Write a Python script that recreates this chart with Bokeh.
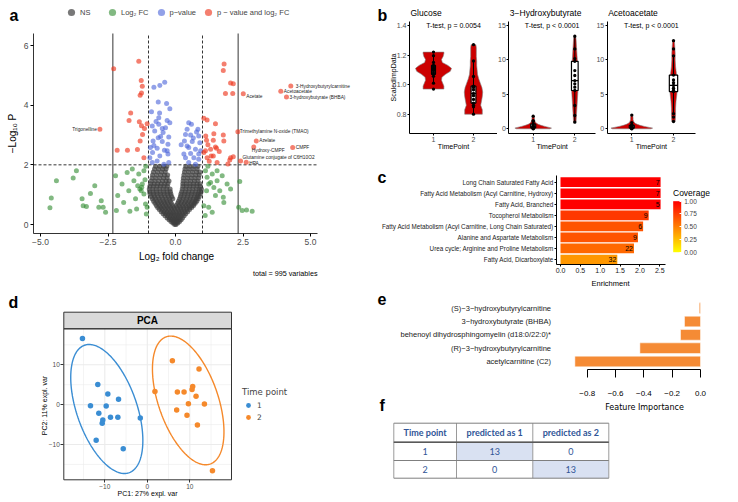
import numpy as np
from bokeh.plotting import figure
from bokeh.models import (Range1d, Label, LabelSet, ColumnDataSource, Legend, LegendItem,
                          FixedTicker, ColorBar, LinearColorMapper, NumeralTickFormatter)
from bokeh.layouts import row, column
from bokeh.transform import transform
from bokeh.embed import file_html
from bokeh.resources import INLINE
from bokeh.core.properties import value

FONT = "Liberation Sans"
FONT2 = "DejaVu Sans"
TFONT = "Lato"

# ---------------- Panel a: volcano ----------------
ns_rows = [
    (0.00, [-0.03, 0.02]),
    (0.05, [-0.10, -0.04, 0.03, 0.09]),
    (0.10, [-0.17, -0.09, -0.01, 0.07, 0.15]),
    (0.16, [-0.24, -0.15, -0.06, 0.03, 0.12, 0.21]),
    (0.22, [-0.31, -0.22, -0.12, -0.03, 0.06, 0.16, 0.26]),
    (0.29, [-0.39, -0.29, -0.19, -0.09, 0.01, 0.11, 0.21, 0.32]),
    (0.36, [-0.46, -0.36, -0.25, -0.15, -0.05, 0.06, 0.16, 0.27, 0.38]),
    (0.43, [-0.53, -0.42, -0.31, -0.20, -0.09, 0.02, 0.13, 0.24, 0.35, 0.45]),
    (0.50, [-0.60, -0.49, -0.37, -0.26, -0.14, -0.03, 0.09, 0.20, 0.31, 0.42, 0.52]),
    (0.57, [-0.66, -0.54, -0.42, -0.30, -0.18, -0.06, 0.06, 0.18, 0.30, 0.42, 0.53, 0.60]),
    (0.64, [-0.71, -0.59, -0.47, -0.35, -0.23, -0.11, 0.02, 0.14, 0.26, 0.38, 0.50, 0.61, 0.67]),
    (0.71, [-0.76, -0.64, -0.52, -0.40, -0.28, -0.15, 0.08, 0.20, 0.33, 0.45, 0.57, 0.68, 0.73]),
    (0.78, [-0.81, -0.69, -0.57, -0.44, -0.32, -0.19, 0.11, 0.24, 0.37, 0.50, 0.62, 0.73, 0.79]),
    (0.86, [-0.86, -0.74, -0.61, -0.48, -0.35, -0.22, -0.10, 0.15, 0.28, 0.41, 0.54, 0.66, 0.77, 0.84]),
    (0.94, [-0.90, -0.78, -0.65, -0.52, -0.39, -0.26, -0.14, 0.18, 0.31, 0.44, 0.57, 0.70, 0.81, 0.88]),
    (1.02, [-0.94, -0.81, -0.68, -0.55, -0.42, -0.29, -0.17, 0.20, 0.33, 0.46, 0.59, 0.72, 0.84, 0.92]),
    (1.10, [-0.96, -0.83, -0.70, -0.57, -0.44, -0.31, -0.19, 0.23, 0.36, 0.49, 0.62, 0.75, 0.87, 0.95]),
    (1.19, [-0.97, -0.84, -0.71, -0.58, -0.45, -0.32, -0.20, 0.25, 0.38, 0.51, 0.64, 0.77, 0.89, 0.96]),
    (1.28, [-0.95, -0.82, -0.69, -0.56, -0.43, -0.30, 0.27, 0.40, 0.53, 0.66, 0.79, 0.91]),
    (1.37, [-0.92, -0.79, -0.66, -0.53, -0.40, -0.28, 0.27, 0.40, 0.54, 0.67, 0.80, 0.91]),
    (1.46, [-0.90, -0.76, -0.62, -0.48, -0.35, -0.24, 0.28, 0.42, 0.56, 0.70, 0.83]),
    (1.56, [-0.87, -0.73, -0.58, -0.44, -0.31, 0.29, 0.44, 0.58, 0.72, 0.86]),
    (1.66, [-0.85, -0.70, -0.55, -0.41, -0.29, 0.31, 0.46, 0.61, 0.75, 0.88]),
    (1.76, [-0.82, -0.67, -0.52, -0.38, 0.33, 0.48, 0.63, 0.78, 0.90]),
    (1.86, [-0.78, -0.63, -0.48, -0.35, 0.35, 0.50, 0.65, 0.80]),
    (1.95, [-0.74, -0.59, -0.44, -0.32, 0.38, 0.53, 0.68, 0.83]),
]
fc_x = [-4.41, -4.60, -4.65, -3.79, -3.67, -3.46, -3.42, -3.30, -3.15, -2.99, -2.84, -2.75, -2.68, -2.59,
        -2.22, -2.14, -2.19, -1.98, -1.92, -1.79, -1.73, -1.69, -1.60, -1.54, -1.48, -1.44, -1.40, -1.32,
        -1.27, -1.23, -1.17, -1.11, -1.05, -1.17, -1.36, -1.25, -1.13, -1.10, -1.08,
        1.11, 1.17, 1.23, 1.30, 1.36, 1.15, 1.42, 1.48, 1.54, 1.05, 1.23, 1.36, 1.54, 1.77, 1.79, 1.91,
        2.04, 2.38, 2.34, 2.47, 2.63, 2.84, 1.73, 1.64, 1.20, 1.10]
fc_y = [1.47, 0.89, 0.56, 1.56, 1.80, 0.86, 0.63, 0.60, 1.04, 1.30, 0.58, 0.80, 0.58, 0.41,
        1.63, 0.97, 0.47, 1.36, 0.74, 1.74, 1.13, 0.44, 1.86, 1.47, 0.86, 0.52, 1.30, 1.19,
        1.13, 1.36, 1.80, 0.69, 0.58, 1.02, 1.69, 1.25, 1.50, 1.95, 0.35,
        1.80, 1.58, 1.36, 1.41, 1.69, 1.13, 1.24, 0.97, 1.47, 0.63, 0.58, 0.41, 1.80, 0.91, 0.74, 1.36,
        1.19, 1.44, 0.58, 0.47, 0.49, 0.44, 1.63, 1.13, 1.95, 0.30]
p_x = [-0.80, -0.58, -0.40, -0.64, -0.33, -0.21, -0.89, -0.59, -0.62, -0.31, -0.21, -0.86, -0.62,
       -0.49, -0.37, -0.77, -0.46, -0.25, -0.64, -0.83, -0.49, -0.28, -0.93, -0.68, -0.41, -0.85,
       -0.58, -0.28, -0.95, -0.80, -0.31, -0.68, -0.25, -0.86, -0.43, -0.72, -0.55,
       0.49, 0.59, 0.83, 0.43, 0.37, 0.56, 0.86, 0.33, 0.21, 0.62, 0.90, 0.49, 0.74, 0.56, 0.86,
       0.31, 0.68, 0.43, 0.86, 0.49, 0.74, 0.37, 0.93, 0.66, 0.78]
p_y = [4.60, 4.66, 4.77, 4.11, 4.06, 3.88, 3.78, 3.74, 3.58, 3.49, 3.41, 3.30, 3.36,
       3.22, 3.24, 3.13, 3.08, 2.93, 2.91, 2.80, 2.78, 2.69, 2.58, 2.56, 2.49, 2.41,
       2.30, 2.36, 2.24, 2.65, 2.47, 2.13, 2.08, 2.08, 2.02, 3.45, 2.95,
       3.41, 3.36, 3.19, 3.19, 3.02, 3.00, 2.97, 2.80, 2.67, 2.78, 2.74, 2.58, 2.52, 2.38, 2.36,
       2.36, 2.24, 2.63, 2.19, 2.08, 2.02, 2.24, 2.47, 2.90, 3.10]
pfc_x = [-2.29, -1.36, -1.27, -1.23, -1.26, -1.31, -1.66, -1.72, -1.34, -1.26, -1.15, -1.05, -1.31,
         -1.22, -2.16, -1.78, -1.41, -1.17,
         1.80, 1.77, 2.04, 2.14, 1.85, 2.12, 1.05, 1.17, 1.48, 1.12, 1.42, 1.77, 1.15, 1.40, 1.79,
         1.20, 1.48, 1.30, 1.11, 1.52, 1.32, 2.04, 1.05, 1.17, 1.54, 1.40, 1.94, 2.14, 2.01, 1.25, 1.62]
pfc_y = [5.22, 5.47, 4.83, 4.63, 4.41, 4.33, 3.74, 3.49, 3.44, 3.31, 3.22, 3.38, 2.80,
         3.02, 2.49, 2.49, 2.51, 2.24,
         5.38, 5.16, 4.74, 4.72, 4.39, 4.39, 3.56, 3.50, 3.38, 2.97, 3.04, 3.00, 2.82, 2.82, 2.80,
         2.67, 2.60, 2.52, 2.47, 2.56, 2.30, 2.24, 2.41, 2.24, 2.08, 2.30, 2.03, 2.27, 2.16, 2.12, 2.45]
lab_names = ["3-Hydroxybutyrylcarnitine", "Acetoacetate", "3-hydroxybutyrate (BHBA)", "Acetate",
             "Trimethylamine N-oxide (TMAO)", "Azelate", "Hydroxy-CMPF", "CMPF",
             "Glutamine conjugate of C6H10O2", "HPA", "Trigonelline"]
lab_x = [4.27, 3.90, 4.11, 2.51, 2.31, 2.99, 2.90, 4.34, 2.41, 2.62, -2.80]
lab_y = [4.64, 4.47, 4.27, 4.38, 3.11, 2.80, 2.60, 2.58, 2.13, 2.09, 3.19]
fc_cutoff = 1.0
fc_cutoff_strong = 2.32
p_cutoff = 2.0
total_variables = 995

# ---------------- Panel b: violins ----------------
glucose_t1 = [0.97, 1.01, 1.056, 1.07, 1.08, 1.094, 1.10, 1.11, 1.12, 1.13, 1.15, 1.196, 1.22]
glucose_t2 = [0.80, 0.85, 0.86, 0.875, 0.90, 0.925, 0.94, 0.965, 0.98, 0.99, 1.055, 1.16, 1.27]
hb_t1 = [0.0, 0.03, 0.08, 0.12, 0.18, 0.25, 0.30, 0.40, 0.55, 0.70, 1.05, 1.20, 1.83]
hb_t2 = [0.96, 1.93, 3.38, 5.56, 6.04, 6.53, 7.0, 7.74, 8.46, 9.80, 10.2, 11.6, 13.44]
acac_t1 = [0.0, 0.03, 0.06, 0.10, 0.14, 0.20, 0.25, 0.30, 0.40, 0.50, 0.62, 0.90, 2.0]
acac_t2 = [1.06, 1.7, 2.2, 5.4, 5.6, 5.9, 6.3, 6.7, 7.1, 7.8, 10.6, 11.6, 12.8]
glu1_lv = [0.97, 0.99, 1.01, 1.03, 1.05, 1.07, 1.09, 1.11, 1.13, 1.15, 1.17, 1.19, 1.21, 1.22]
glu1_hw = [0.26, 0.26, 0.23, 0.20, 0.21, 0.30, 0.42, 0.45, 0.36, 0.22, 0.20, 0.24, 0.26, 0.26]
glu2_lv = [0.80, 0.83, 0.86, 0.89, 0.92, 0.95, 0.98, 1.01, 1.04, 1.07, 1.10, 1.13, 1.16, 1.19, 1.22, 1.25, 1.27]
glu2_hw = [0.22, 0.22, 0.18, 0.20, 0.22, 0.23, 0.21, 0.17, 0.13, 0.10, 0.09, 0.08, 0.08, 0.07, 0.07, 0.07, 0.06]
hb1_lv = [0.0, 0.1, 0.2, 0.35, 0.5, 0.65, 0.8, 1.0, 1.2, 1.4, 1.6, 1.83]
hb1_hw = [0.40, 0.44, 0.38, 0.28, 0.19, 0.12, 0.08, 0.05, 0.04, 0.03, 0.03, 0.02]
hb2_lv = [0.96, 2, 3, 4, 5, 6, 7, 8, 9, 10, 11, 12, 13, 13.44]
hb2_hw = [0.03, 0.04, 0.05, 0.06, 0.07, 0.08, 0.08, 0.08, 0.07, 0.06, 0.05, 0.04, 0.03, 0.02]
acac1_lv = [0.0, 0.1, 0.2, 0.35, 0.5, 0.65, 0.8, 1.0, 1.3, 1.6, 2.0]
acac1_hw = [0.46, 0.50, 0.42, 0.30, 0.20, 0.13, 0.08, 0.05, 0.03, 0.03, 0.02]
acac2_lv = [1.06, 2, 3, 4, 5, 6, 7, 8, 9, 10, 11, 12, 12.8]
acac2_hw = [0.04, 0.05, 0.05, 0.06, 0.08, 0.09, 0.09, 0.07, 0.05, 0.04, 0.04, 0.03, 0.02]
metabolite_titles = ["Glucose", "3−Hydroxybutyrate", "Acetoacetate"]
ttest_labels = ["T-test, p = 0.0054", "T-test, p < 0.0001", "T-test, p < 0.0001"]

# ---------------- Panel c: enrichment ----------------
pathways = ["Long Chain Saturated Fatty Acid",
            "Fatty Acid Metabolism (Acyl Carnitine, Hydroxy)",
            "Fatty Acid, Branched",
            "Tocopherol Metabolism",
            "Fatty Acid Metabolism (Acyl Carnitine, Long Chain Saturated)",
            "Alanine and Aspartate Metabolism",
            "Urea cycle; Arginine and Proline Metabolism",
            "Fatty Acid, Dicarboxylate"]
enrichment = [2.52, 2.52, 2.52, 2.22, 2.08, 1.95, 1.85, 1.43]
coverage = [1.0, 1.0, 1.0, 0.78, 0.67, 0.67, 0.59, 0.41]
pathway_size = [7, 7, 5, 9, 6, 9, 22, 32]

# ---------------- Panel d: PCA ----------------
pc1_t1 = [-15.26, -11.65, -9.29, -6.77, -13.37, -9.67, -11.41, -8.66, -6.93, -10.47, -10.61, -1.65, -12.03, -5.66]
pc2_t1 = [16.6, 5.08, 2.67, 1.33, -0.25, -0.33, -2.17, -3.17, -3.17, -3.83, -4.67, -3.33, -8.92, -11.08]
pc1_t2 = [5.90, 12.17, 1.80, 7.08, 8.65, 10.68, 10.53, 11.47, 9.67, 13.44, 6.91, 9.34, 11.79, 15.33]
pc2_t2 = [11.0, 8.92, 3.33, 3.17, 3.17, 4.58, 3.83, 2.08, 0.25, 0.17, -1.33, -2.67, -5.08, -16.58]
pca_major = [-10, 0, 10]
pca_minor = [-15, -5, 5, 15]

# ---------------- Panel e: feature importance ----------------
features = ["(S)−3−hydroxybutyrylcarnitine", "3−hydroxybutyrate (BHBA)",
            "behenoyl dihydrosphingomyelin (d18:0/22:0)*", "(R)−3−hydroxybutyrylcarnitine",
            "acetylcarnitine (C2)"]
importance = [-0.009, -0.113, -0.141, -0.428, -0.887]

# ---------------- Panel f: confusion table ----------------
table_header = ["Time point", "predicted as 1", "predicted as 2"]
table_rows = [["1", "13", "0"], ["2", "0", "13"]]


class Frame:
    """Canvas placed at page pixels (left, top, right, bottom); calibrated by two value/pixel pairs per axis."""

    def __init__(self, left, top, right, bottom, xcal, ycal):
        self.box = (left, top, right, bottom)
        self.xv0, self.xp0, xv1, xp1 = xcal
        self.yv0, self.yp0, yv1, yp1 = ycal
        self.kx = (xv1 - self.xv0) / (xp1 - self.xp0)
        self.ky = (yv1 - self.yv0) / (yp1 - self.yp0)

    def x(self, px):
        return self.xv0 + (px - self.xp0) * self.kx

    def y(self, py):
        return self.yv0 + (py - self.yp0) * self.ky

    def fig(self, axes=True):
        l, t, r, b = self.box
        kw = {} if axes else dict(x_axis_type=None, y_axis_type=None)
        p = figure(width=int(round(r - l)), height=int(round(b - t)),
                   x_range=Range1d(self.x(l), self.x(r)), y_range=Range1d(self.y(b), self.y(t)),
                   output_backend="svg", toolbar_location=None, title=None, min_border=0,
                   frame_align=False, **kw)
        p.outline_line_color = None
        p.grid.grid_line_color = None
        p.background_fill_color = "white"
        p.border_fill_color = "white"
        return p

    def text(self, p, px, py, s, size, align="left", baseline="middle", angle=0.0, bold=False,
             font=FONT, color="black"):
        p.add_layout(Label(x=self.x(px), y=self.y(py), text=s, text_font=font, text_font_size=size,
                           text_align=align, text_baseline=baseline, angle=angle, text_color=color,
                           text_font_style="bold" if bold else "normal"))

    def letter(self, p, px, py, ch):
        self.text(p, px, py, ch, "16px", bold=True)

    def axes(self, p, x_at, x_from, x_to, y_at, y_from, y_to, tick_size, tick_color="#4D4D4D",
             tick_out=3, line_color="black", standoff=2, font=FONT):
        p.xaxis.fixed_location = self.y(x_at)
        p.xaxis.bounds = tuple(sorted((self.x(x_from), self.x(x_to))))
        p.yaxis.fixed_location = self.x(y_at)
        p.yaxis.bounds = tuple(sorted((self.y(y_from), self.y(y_to))))
        for ax in p.axis:
            ax.major_label_text_font = font
            ax.major_label_text_font_size = tick_size
            ax.major_label_text_color = tick_color
            ax.minor_tick_line_color = None
            ax.major_tick_in = 0
            ax.major_tick_out = tick_out
            ax.major_tick_line_color = line_color
            ax.axis_line_color = line_color
            ax.major_label_standoff = standoff


SPLIT = 355      # page x where the left column ends
PAGE_R = 736     # right edge of the content
PAGE_B = 500     # bottom edge of the content

# ======== Panel a ========
Fa = Frame(0, 0, SPLIT, 285, (-5, 40, 5, 310), (0, 224, 6, 45))
pa = Fa.fig()
Fa.axes(pa, 233, 33, 317, 33, 233, 33, "8.5px", standoff=2)
pa.axis.axis_line_width = 0.8
pa.xaxis.ticker = FixedTicker(ticks=[-5, -2.5, 0, 2.5, 5])
pa.xaxis.major_label_overrides = {-5: "−5.0", -2.5: "−2.5", 0: "0.0", 2.5: "2.5", 5: "5.0"}
pa.yaxis.ticker = FixedTicker(ticks=[0, 2, 4, 6])
y_bot, y_top, x_left, x_right = Fa.y(233), Fa.y(33), Fa.x(33), Fa.x(317)
pa.segment(x0=[-fc_cutoff_strong, fc_cutoff_strong], y0=[y_bot] * 2, x1=[-fc_cutoff_strong, fc_cutoff_strong],
           y1=[y_top] * 2, line_color="black", line_width=0.8)
pa.segment(x0=[-fc_cutoff, fc_cutoff], y0=[y_bot] * 2, x1=[-fc_cutoff, fc_cutoff], y1=[y_top] * 2,
           line_color="black", line_width=0.8, line_dash="3 2")
pa.segment(x0=[x_left], y0=[p_cutoff], x1=[x_right], y1=[p_cutoff], line_color="black",
           line_width=0.8, line_dash="3 2")

ns_x = [x for y, xs in ns_rows for x in xs]
ns_y = [y for y, xs in ns_rows for x in xs]
r_ns = pa.scatter(ns_x, ns_y, size=5, fill_color="#3F3F3F", line_color=None, fill_alpha=0.7)
r_fc = pa.scatter(fc_x, fc_y, size=5, fill_color="#2E8B2E", line_color=None, fill_alpha=0.6)
r_p = pa.scatter(p_x, p_y, size=5, fill_color="#4A62D8", line_color=None, fill_alpha=0.6)
r_pfc = pa.scatter(pfc_x + lab_x, pfc_y + lab_y, size=5, fill_color="#EE3B22", line_color=None,
                   fill_alpha=0.65)
leg_a = Legend(items=[LegendItem(label="NS", renderers=[r_ns]),
                      LegendItem(label="Log₂ FC", renderers=[r_fc]),
                      LegendItem(label="p−value", renderers=[r_p]),
                      LegendItem(label="p − value and log₂ FC", renderers=[r_pfc])],
               orientation="horizontal", location=(62, 264), glyph_width=18, glyph_height=18,
               label_standoff=0, spacing=3, padding=0, margin=0, border_line_color=None,
               background_fill_alpha=0, label_text_font=FONT, label_text_font_size="7.5px")
pa.add_layout(leg_a, "center")

lab_dx = [5, 3, 3, 3, 2, 3, -2, 3, 2, 3, -3]
lab_dy = [0, 0, 0, -3, 0, 0, -4, 0, 3, -1, 0]
lab_al = ["left"] * 10 + ["right"]
for al in ("left", "right"):
    idx = [i for i, a in enumerate(lab_al) if a == al]
    src = ColumnDataSource(dict(x=[lab_x[i] for i in idx], y=[lab_y[i] for i in idx],
                                t=[lab_names[i] for i in idx], dx=[lab_dx[i] for i in idx],
                                dy=[lab_dy[i] for i in idx]))
    pa.add_layout(LabelSet(x="x", y="y", text="t", x_offset="dx", y_offset="dy", source=src,
                           text_font=value(FONT), text_font_size="4.8px", text_baseline="middle",
                           text_align=al, text_color="#222222"))
Fa.text(pa, 176, 256, "Log₂ fold change", "10px", align="center")
Fa.text(pa, 12, 133, "−Log₁₀ P", "10px", align="center", angle=np.pi / 2)
Fa.text(pa, 317, 273, f"total = {total_variables} variables", "7.2px", align="right")
Fa.letter(pa, 9, 15, "a")

# ======== Panel b ========
VIOLIN = "#CC0000"


def add_violin(p, center, lv, hw):
    xs = [center - w for w in hw] + [center + w for w in hw[::-1]]
    ys = list(lv) + list(lv[::-1])
    p.patch(xs, ys, fill_color=VIOLIN, line_color="#808080", line_width=0.6)


def add_box(p, center, vals, hw):
    v = np.array(vals)
    q1, med, q3 = np.percentile(v, [25, 50, 75])
    iqr = q3 - q1
    lo = v[v >= q1 - 1.5 * iqr].min()
    hi = v[v <= q3 + 1.5 * iqr].max()
    p.segment(x0=[center, center], y0=[q3, q1], x1=[center, center], y1=[hi, lo],
              line_color="black", line_width=1)
    p.quad(left=[center - hw], right=[center + hw], bottom=[q1], top=[q3],
           fill_color="white", line_color="black", line_width=1.2)
    p.segment(x0=[center - hw], y0=[med], x1=[center + hw], y1=[med], line_color="black", line_width=1.2)
    p.scatter([center] * len(vals), vals, size=3.3, fill_color="black", line_color=None)


def violin_panel(F, ax_left, ax_right, ticks, fmt, title, ttest, groups):
    p = F.fig()
    F.axes(p, 133.3, ax_left, ax_right, ax_left, 133.3, 20.7, "7px", tick_out=2, standoff=1)
    p.xaxis.ticker = FixedTicker(ticks=[1, 2])
    p.yaxis.ticker = FixedTicker(ticks=ticks)
    p.yaxis.formatter = NumeralTickFormatter(format=fmt)
    for center, (lv, hw, pts, bhw) in zip([1, 2], groups):
        add_violin(p, center, lv, hw)
        add_box(p, center, pts, bhw)
    mid = (ax_left + ax_right) / 2
    F.text(p, ax_left + 1, 12.7, title, "8.5px")
    F.text(p, mid, 25, ttest, "7px", align="center")
    F.text(p, mid, 145.5, "TimePoint", "7px", align="center")
    return p


Fb1 = Frame(SPLIT, 0, 497, 150, (1, 433, 2, 473), (1.4, 25, 0.8, 113.7))
Fb2 = Frame(497, 0, 596, 150, (1, 532.7, 2, 574.3), (15, 25, 0, 128.3))
Fb3 = Frame(596, 0, PAGE_R, 150, (1, 631.3, 2, 673), (15, 25, 0, 128.3))
pb1 = violin_panel(Fb1, 409, 497, [0.8, 1.0, 1.2, 1.4], "0.0", metabolite_titles[0], ttest_labels[0],
                   [(glu1_lv, glu1_hw, glucose_t1, 0.05), (glu2_lv, glu2_hw, glucose_t2, 0.06)])
Fb1.text(pb1, 393, 77, "ScaledImpData", "7px", align="center", angle=np.pi / 2)
Fb1.letter(pb1, 377, 15, "b")
pb2 = violin_panel(Fb2, 508.3, 595, [0, 5, 10, 15], "0", metabolite_titles[1], ttest_labels[1],
                   [(hb1_lv, hb1_hw, hb_t1, 0.06), (hb2_lv, hb2_hw, hb_t2, 0.08)])
pb3 = violin_panel(Fb3, 606.7, 695, [0, 5, 10, 15], "0", metabolite_titles[2], ttest_labels[2],
                   [(acac1_lv, acac1_hw, acac_t1, 0.06), (acac2_lv, acac2_hw, acac_t2, 0.1)])

# ======== Panel c ========
pal = ["#%02x%02x00" % (255, int(round(255 * (1 - t)))) for t in np.linspace(0, 1, 256)]
mapper = LinearColorMapper(palette=pal, low=0, high=1)
Fc = Frame(SPLIT, 150, PAGE_R, 290, (0, 560, 2.5, 659.3), (1, 181.7, 8, 259))
pc = Fc.fig()
Fc.axes(pc, 264.3, 556, 665, 556, 175, 264.3, "6.3px", tick_color="#1A1A1A", tick_out=2, standoff=1)
ranks = list(range(1, len(pathways) + 1))
csrc = ColumnDataSource(dict(y=ranks, right=enrichment, cov=coverage, n=[str(s) for s in pathway_size]))
pc.hbar(y="y", right="right", left=0, height=0.88, fill_color=transform("cov", mapper),
        line_color=None, source=csrc)
pc.text(x="right", y="y", text="n", x_offset=-1, text_align="right", text_baseline="middle",
        text_font=value(FONT), text_font_size="7px", text_color="black", source=csrc)
pc.yaxis.ticker = FixedTicker(ticks=ranks)
pc.yaxis.major_label_overrides = {r: n for r, n in zip(ranks, pathways)}
pc.xaxis.ticker = FixedTicker(ticks=[0, 0.5, 1.0, 1.5, 2.0, 2.5])
pc.xaxis.formatter = NumeralTickFormatter(format="0.0")
pc.xaxis.major_label_text_font_size = "7px"
cb = ColorBar(color_mapper=mapper, width=8, height=51, title=None,
              ticker=FixedTicker(ticks=[0, 0.25, 0.5, 0.75, 1.0]),
              formatter=NumeralTickFormatter(format="0.00"), major_label_text_font=FONT,
              major_label_text_font_size="6.5px", label_standoff=3, major_tick_line_color="white",
              major_tick_in=2, major_tick_out=0, minor_tick_line_color=None, bar_line_color=None,
              location=(672.7 - SPLIT, 290 - 251.7), padding=0, margin=0, background_fill_alpha=0,
              border_line_color=None, orientation="vertical")
pc.add_layout(cb, "center")
Fc.text(pc, 672.5, 192, "Coverage", "8.5px")
Fc.text(pc, 610, 283, "Enrichment", "7.5px", align="center")
Fc.letter(pc, 377, 176.7, "c")

# ======== Panel d ========
Fd = Frame(0, 285, SPLIT, PAGE_B, (-10, 104.3, 10, 189.3), (10, 364.3, -10, 444))
pd_ = Fd.fig()
x_lo, x_hi = Fd.x(63.3), Fd.x(231)
y_lo, panel_top, strip_top = Fd.y(479.3), Fd.y(328.3), Fd.y(311.7)
Fd.axes(pd_, 479.3, 63.3, 231, 63.3, 479.3, 328.3, "6.5px", tick_out=3, line_color="#333333",
        standoff=1)
pd_.axis.axis_line_color = None
for ax in pd_.axis:
    ax.ticker = FixedTicker(ticks=pca_major)
    ax.major_label_overrides = {-10: "−10", 0: "0", 10: "10"}
pd_.segment(x0=pca_minor, y0=[y_lo] * 4, x1=pca_minor, y1=[panel_top] * 4, line_color="#EBEBEB", line_width=0.6)
pd_.segment(x0=[x_lo] * 4, y0=pca_minor, x1=[x_hi] * 4, y1=pca_minor, line_color="#EBEBEB", line_width=0.6)
pd_.segment(x0=pca_major, y0=[y_lo] * 3, x1=pca_major, y1=[panel_top] * 3, line_color="#EBEBEB", line_width=1.1)
pd_.segment(x0=[x_lo] * 3, y0=pca_major, x1=[x_hi] * 3, y1=pca_major, line_color="#EBEBEB", line_width=1.1)
pd_.quad(left=[x_lo], right=[x_hi], bottom=[panel_top], top=[strip_top], fill_color="#D9D9D9",
         line_color="#333333", line_width=1)
pd_.quad(left=[x_lo], right=[x_hi], bottom=[y_lo], top=[panel_top], fill_color=None,
         line_color="#333333", line_width=1)
Fd.text(pd_, 147, 320, "PCA", "10px", align="center", bold=True)
BLUE, ORANGE = "#3A8DD3", "#F5892B"


def conf_ellipse(xs, ys, scale=2.4477):
    X = np.column_stack([xs, ys])
    mu = X.mean(axis=0)
    L = np.linalg.cholesky(np.cov(X.T))
    t = np.linspace(0, 2 * np.pi, 240)
    pts = (L @ (np.vstack([np.cos(t), np.sin(t)]) * scale)).T + mu
    return pts[:, 0], pts[:, 1]


legend_d = []
for lbl, xs, ys, col in (("1", pc1_t1, pc2_t1, BLUE), ("2", pc1_t2, pc2_t2, ORANGE)):
    ex, ey = conf_ellipse(xs, ys)
    pd_.line(ex, ey, line_color=col, line_width=1.4)
    r = pd_.scatter(xs, ys, size=5.5, fill_color=col, line_color=None)
    legend_d.append(LegendItem(label=lbl, renderers=[r]))
leg_d = Legend(items=legend_d, title="Time point", title_text_font=FONT2, title_text_font_size="8.5px",
               title_text_font_style="normal", title_standoff=2, label_text_font=FONT2,
               label_text_font_size="7.5px", glyph_width=12, glyph_height=12, label_standoff=3,
               spacing=0, padding=0, margin=0, location=(242, PAGE_B - 423), border_line_color=None,
               background_fill_alpha=0)
pd_.add_layout(leg_d, "center")
Fd.text(pd_, 147, 493, "PC1: 27% expl. var", "7px", align="center")
Fd.text(pd_, 44, 405, "PC2: 11% expl. var", "7px", align="center", angle=np.pi / 2)
Fd.letter(pd_, 8, 301.7, "d")

# ======== Panel e ========
Fe = Frame(SPLIT, 290, PAGE_R, 414, (-0.8, 586.7, 0, 700), (1, 307.7, 5, 361))
pe = Fe.fig()
Fe.axes(pe, 369.3, 586.7, 700, 564.5, 300, 369.3, "8px", tick_color="black", tick_out=8, standoff=13)
frank = list(range(1, len(features) + 1))
pe.hbar(y=frank, left=importance, right=0, height=0.8, fill_color="#F58B35", line_color="white",
        line_width=0.5)
pe.xaxis.ticker = FixedTicker(ticks=[-0.8, -0.6, -0.4, -0.2, 0.0])
pe.xaxis.major_label_overrides = {-0.8: "−0.8", -0.6: "−0.6", -0.4: "−0.4", -0.2: "−0.2", 0: "0.0"}
pe.xaxis.bounds = (-0.8, 0.0)
pe.yaxis.ticker = FixedTicker(ticks=frank)
pe.yaxis.major_label_overrides = {r: n for r, n in zip(frank, features)}
pe.yaxis.axis_line_color = None
pe.yaxis.major_tick_line_color = None
pe.yaxis.major_label_text_font_size = "7.5px"
pe.yaxis.major_label_text_color = "#1A1A1A"
pe.yaxis.major_label_standoff = 6
Fe.text(pe, 644, 407, "Feature Importance", "8px", align="center", font=FONT2)
Fe.letter(pe, 377, 298, "e")
Fe.letter(pe, 379, 405, "f")

# ======== Panel f (table) ========
Ff = Frame(SPLIT, 414, PAGE_R, PAGE_B, (SPLIT, SPLIT, PAGE_R, PAGE_R), (414, 414, PAGE_B, PAGE_B))
pf = Ff.fig(axes=False)
col_edges = [393.3, 456.0, 532.3, 608.3]
row_edges = [422.7, 441.7, 460.0, 477.7]
for ri, rv in enumerate(table_rows):
    ci = int(rv[0])
    pf.quad(left=[col_edges[ci]], right=[col_edges[ci + 1]], top=[row_edges[ri + 1]],
            bottom=[row_edges[ri + 2]], fill_color="#D9E1F2", line_color=None)
pf.segment(x0=col_edges, y0=[row_edges[0]] * 4, x1=col_edges, y1=[row_edges[-1]] * 4,
           line_color="#9A9A9A", line_width=1)
pf.segment(x0=[col_edges[0]] * 4, y0=row_edges, x1=[col_edges[-1]] * 4, y1=row_edges,
           line_color="#7F7F7F", line_width=1)
pf.segment(x0=[col_edges[0]], y0=[row_edges[1]], x1=[col_edges[-1]], y1=[row_edges[1]],
           line_color="#595959", line_width=1.6)
cx = [(a + b) / 2 for a, b in zip(col_edges[:-1], col_edges[1:])]
cy = [(a + b) / 2 for a, b in zip(row_edges[:-1], row_edges[1:])]
pf.text(x=cx, y=[cy[0]] * 3, text=table_header, text_font=value(TFONT), text_font_size="9px",
        text_font_style="bold", text_color="#2F5597", text_align="center", text_baseline="middle")
for ri, rv in enumerate(table_rows):
    pf.text(x=cx, y=[cy[ri + 1]] * 3, text=rv, text_font=value(TFONT), text_font_size="9px",
            text_color="#2F5597", text_align="center", text_baseline="middle")

layout = row(column(pa, pd_), column(row(pb1, pb2, pb3), pc, pe, pf))
open("out.html", "w").write(file_html(layout, INLINE))
